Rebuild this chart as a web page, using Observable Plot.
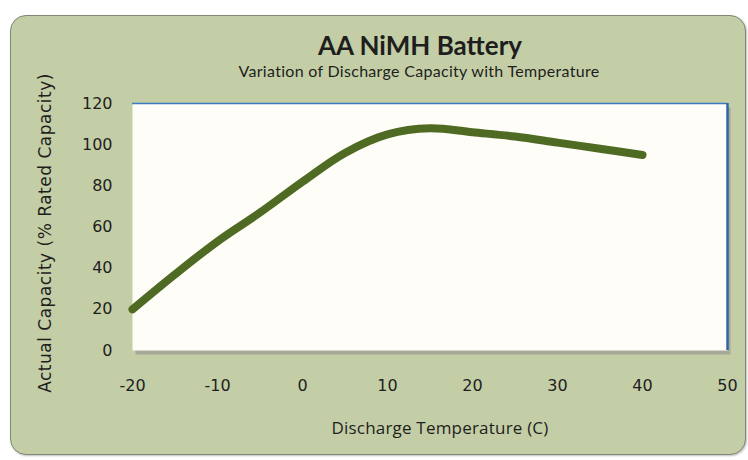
<!DOCTYPE html>
<html>
<head>
<meta charset="utf-8">
<script src="https://cdn.jsdelivr.net/npm/d3@7"></script>
<script src="https://cdn.jsdelivr.net/npm/@observablehq/plot@0.6"></script>
<style>
  html, body { margin: 0; padding: 0; background: #ffffff; }
  #wrap { position: relative; width: 748px; height: 460px; overflow: hidden; }
  #panel { position: absolute; left: 10px; top: 15px; width: 736px; height: 440px;
    background: #c4cea6; border: 1px solid #7f8876; border-radius: 16px; box-sizing: border-box;
    box-shadow: 1px 1px 2px rgba(0,0,0,0.25); }
  .t { position: absolute; color: #1e1e1e; white-space: nowrap; }
  #title { left: 0; width: 840px; top: 29px; text-align: center; font: bold 26px Lato, "Open Sans", sans-serif; }
  #subtitle { left: 0; width: 838px; top: 61px; text-align: center; font: 16px Lato, "Open Sans", sans-serif; letter-spacing: 0.3px; }
  #xlabel { left: 0; width: 880px; top: 416px; text-align: center; font: 17px "Open Sans", Lato, sans-serif; letter-spacing: 0.2px; }
  #ylabel { left: 45px; top: 233px; font: 17px "DejaVu Sans", sans-serif; letter-spacing: 0.5px; transform: translate(-50%, -50%) rotate(-90deg); }
  #chart { position: absolute; left: 0; top: 0; }
</style>
</head>
<body>
<div id="wrap">
  <div id="panel"></div>
  <div id="chart"></div>
  <div class="t" id="title">AA NiMH Battery</div>
  <div class="t" id="subtitle">Variation of Discharge Capacity with Temperature</div>
  <div class="t" id="xlabel">Discharge Temperature (C)</div>
  <div class="t" id="ylabel">Actual Capacity (% Rated Capacity)</div>
</div>
<script>
const temperature = [-20, -15, -10, -5, 0, 5, 10, 15, 20, 25, 30, 35, 40];
const capacity    = [20, 37, 53, 67, 82, 96, 105, 108, 106, 104, 101, 98, 95];
const xTicks = [-20, -10, 0, 10, 20, 30, 40, 50];
const yTicks = [0, 20, 40, 60, 80, 100, 120];

const data = temperature.map((t, i) => ({t, c: capacity[i]}));

const chart = Plot.plot({
  width: 748,
  height: 460,
  marginLeft: 132,
  marginRight: 21,
  marginTop: 103,
  marginBottom: 110,
  style: {background: "transparent", color: "#1e1e1e", overflow: "visible"},
  x: {domain: [-20, 50]},
  y: {domain: [0, 120]},
  marks: [
    Plot.frame({fill: "#8f8a8c", fillOpacity: 0.55, dx: 3, dy: 4}),
    Plot.frame({fill: "#fffdf7"}),
    Plot.ruleY([120], {stroke: "#3b7bbf", strokeWidth: 1.5}),
    Plot.ruleX([50], {stroke: "#2f67a6", strokeWidth: 2.5}),
    Plot.line(data, {x: "t", y: "c", curve: "catmull-rom", stroke: "#4f6a22", strokeWidth: 8, strokeLinecap: "round", strokeLinejoin: "round"}),
    Plot.axisX({ticks: xTicks, tickFormat: d => String(d), tickSize: 0, tickPadding: 29, label: null, fontSize: 16, fontFamily: "DejaVu Sans"}),
    Plot.axisY({ticks: yTicks, tickFormat: d => String(d), tickSize: 0, tickPadding: 20, label: null, fontSize: 16, fontFamily: "DejaVu Sans"})
  ]
});
document.getElementById("chart").appendChild(chart);
</script>
</body>
</html>
